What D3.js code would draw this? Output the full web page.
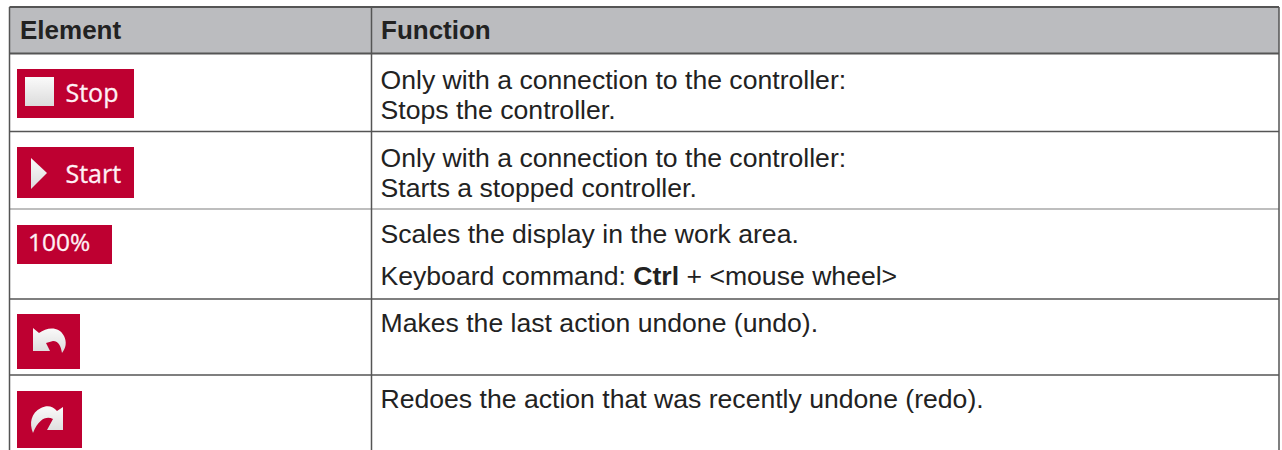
<!DOCTYPE html>
<html><head><meta charset="utf-8">
<style>html,body{margin:0;padding:0;background:#fff;overflow:hidden}svg{display:block}text{font-family:"Liberation Sans",Arial,sans-serif}</style>
<script src="https://cdn.jsdelivr.net/npm/d3@7/dist/d3.min.js"></script></head><body>
<svg id="c" width="1282" height="450"></svg>
<script>
const headers=["Element","Function"];
const rowNames=["stop","start","zoom","undo","redo"];
const buttonLabels=["Stop","Start","100%","",""];
const buttonIcons=["square","triangle","none","undo","redo"];
const functionLines=[
 [[{t:"Only with a connection to the controller:"}],[{t:"Stops the controller."}]],
 [[{t:"Only with a connection to the controller:"}],[{t:"Starts a stopped controller."}]],
 [[{t:"Scales the display in the work area."}],[{t:"Keyboard command: "},{t:"Ctrl",b:1},{t:" + <mouse wheel>"}]],
 [[{t:"Makes the last action undone (undo)."}]],
 [[{t:"Redoes the action that was recently undone (redo)."}]]
];
const colEdges=[9.5,371.5,1279];
const rowEdges=[7,53.5,131.5,209,299,375,470];
const lineBaselines=[[89,119],[167,197],[243,285],[332],[408]];
const btnBoxes=[[17,69,117,49],[17,147,117,51],[17,225,95,39],[17,314,63,55],[17,391,65,57]];
const red="#be0031",ink="#222222",rule="#555555";
const svg=d3.select("#c");
const defs=svg.append("defs");
const g=defs.append("linearGradient").attr("id","ic").attr("x1",0).attr("x2",0).attr("y1",0).attr("y2",1);
g.append("stop").attr("offset","0").attr("stop-color","#fafafa");
g.append("stop").attr("offset","1").attr("stop-color","#dcdcdc");
defs.append("filter").attr("id","soft").append("feGaussianBlur").attr("stdDeviation",0.6);

svg.append("rect").attr("x",colEdges[0]).attr("y",rowEdges[0]).attr("width",colEdges[2]-colEdges[0]).attr("height",rowEdges[1]-rowEdges[0]).attr("fill","#bbbcbf");
svg.selectAll(".h").data(headers).join("text").attr("class","h")
 .attr("x",(d,i)=>colEdges[i]+(i?9.5:10.5)).attr("y",39).attr("font-size",26).attr("font-weight","bold").attr("fill",ink).text(d=>d);
svg.selectAll(".r").data(rowEdges.slice(0,-1)).join("line").attr("class","r")
 .attr("x1",colEdges[0]).attr("x2",colEdges[2]).attr("y1",d=>d).attr("y2",d=>d)
 .attr("stroke",(d,i)=>i==3?"#a8a8a8":rule).attr("stroke-width",(d,i)=>i<2?2:1.5);
svg.selectAll(".v").data(colEdges).join("line").attr("class","v")
 .attr("x1",d=>d).attr("x2",d=>d).attr("y1",rowEdges[0]).attr("y2",450).attr("stroke",rule).attr("stroke-width",1.5);

const b=svg.selectAll(".b").data(rowNames).join("g").attr("class","b")
 .attr("transform",(d,i)=>`translate(${btnBoxes[i][0]},${btnBoxes[i][1]})`);
b.append("rect").attr("width",(d,i)=>btnBoxes[i][2]).attr("height",(d,i)=>btnBoxes[i][3]).attr("fill",red);
b.each(function(d,i){
 const s=d3.select(this),k=buttonIcons[i];
 if(k==="square")s.append("rect").attr("x",8).attr("y",8).attr("width",29).attr("height",29).attr("fill","url(#ic)").attr("filter","url(#soft)");
 if(k==="triangle")s.append("path").attr("d","M14 11L30 26L14 42Z").attr("fill","url(#ic)").attr("filter","url(#soft)");
 if(k==="undo")s.append("path").attr("d","M16 14L22 19C30 13 42 12 47 22C50 28 49 34 45 39C44 33 42 27 36 27L29 29L33 37L16 37Z").attr("fill","url(#ic)").attr("filter","url(#soft)");
 if(k==="redo")s.append("path").attr("d","M46 16L46 39L30 39L36 28C30 25 22 27 16 42C12 32 14 22 24 17C30 14 36 15 40 20Z").attr("fill","url(#ic)").attr("filter","url(#soft)");
});
b.append("text").attr("x",(d,i)=>i==2?11:48.5).attr("y",(d,i)=>[33,36,26,0,0][i])
 .style("font-family","'Open Sans'").attr("font-size",(d,i)=>i==2?24.5:25).attr("fill","#fff0f5").attr("stroke","#fff0f5").attr("stroke-width",0.3).text((d,i)=>buttonLabels[i]);

functionLines.forEach((lines,i)=>lines.forEach((runs,j)=>{
 const t=svg.append("text").attr("x",colEdges[1]+9).attr("y",lineBaselines[i][j]).attr("font-size",26.6).attr("fill",ink);
 t.selectAll("tspan").data(runs).join("tspan").attr("font-weight",d=>d.b?"bold":"normal").text(d=>d.t);
}));
</script></body></html>
